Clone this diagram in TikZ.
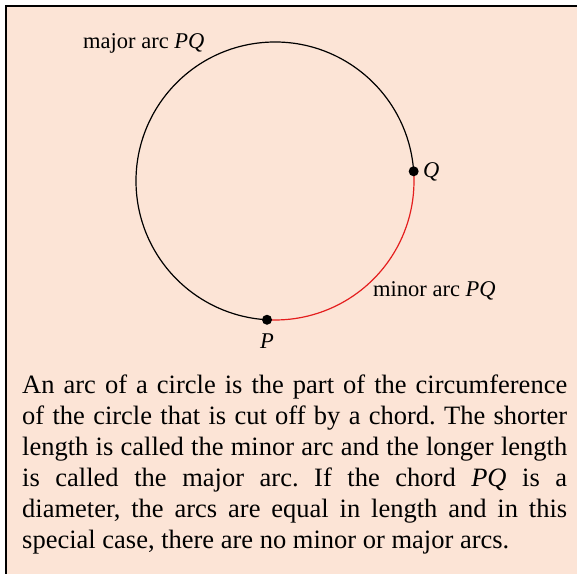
\documentclass[tikz,border=0pt]{standalone}
\usepackage{fontspec}
\setmainfont{Liberation Serif}
\definecolor{peach}{RGB}{252,228,214}
\definecolor{arcred}{RGB}{228,30,30}
\begin{document}
\begin{tikzpicture}[x=1pt,y=1pt,
  lbl/.style={inner sep=0pt,font=\fontsize{22.5}{27}\selectfont},
  dot/.style={circle,fill=black,inner sep=0pt,minimum size=10pt},
  arcline/.style={line width=1.2pt}]
\useasboundingbox (0,0) rectangle (577,573);
\fill[white] (0,0) rectangle (577,573);
\begin{scope}
\clip (0,0) rectangle (577,573);
\draw[line width=2.3pt, fill=peach] (6.2,566.8) rectangle (600,-30);
\end{scope}
\coordinate (O) at (275,392);
\draw[arcline] ([shift={(4:139)}]O) arc[start angle=4,end angle=266.7,radius=139];
\draw[arcline,arcred] ([shift={(-93.3:139)}]O) arc[start angle=-93.3,end angle=4,radius=139];
\node[dot] (Q) at ([shift={(4:139)}]O) {};
\node[dot] (P) at ([shift={(-93.3:139)}]O) {};
\node[lbl,anchor=base west] (qlab) at (423,395) {\textit{Q}};
\node[lbl,anchor=base] (plab) at (267,225) {\textit{P}};
\node[lbl,anchor=base west] (major) at (83,524) {major arc \textit{PQ}};
\node[lbl,anchor=base west] (minor) at (373,276) {minor arc \textit{PQ}};
\node[inner sep=0pt,anchor=base west] (para) at (22,180) {\parbox[t]{545pt}{\fontsize{26.5}{31}\selectfont\frenchspacing\parindent=0pt\tolerance=10000\hyphenpenalty=10000
An arc of a circle is the part of the circumference\linebreak
of the circle that is cut off by a chord. The shorter\linebreak
length is called the minor arc and the longer length\linebreak
is called the major arc. If the chord \textit{PQ} is a\linebreak
diameter, the arcs are equal in length and in this\linebreak
special case, there are no minor or major arcs.}};
\end{tikzpicture}
\end{document}
